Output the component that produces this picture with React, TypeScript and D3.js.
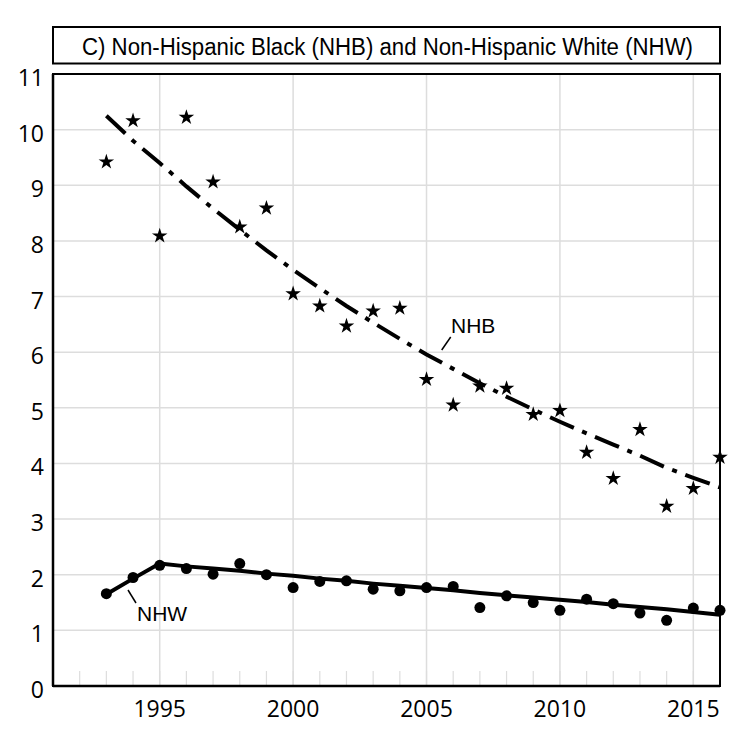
import * as d3 from "d3";

const YEARS = [
  1993, 1994, 1995, 1996, 1997, 1998, 1999, 2000, 2001, 2002, 2003, 2004,
  2005, 2006, 2007, 2008, 2009, 2010, 2011, 2012, 2013, 2014, 2015, 2016,
];

// Non-Hispanic Black: observed rates (stars) and fitted trend (dash-dot)
const NHB_OBSERVED = [
  9.42, 10.16, 8.09, 10.22, 9.06, 8.25, 8.59, 7.05, 6.83, 6.47, 6.74, 6.79,
  5.51, 5.05, 5.39, 5.35, 4.88, 4.95, 4.2, 3.73, 4.61, 3.23, 3.55, 4.11,
];
const NHB_TREND = [
  10.25, 9.8, 9.4, 8.98, 8.58, 8.2, 7.83, 7.48, 7.15, 6.83, 6.53, 6.24, 5.96,
  5.7, 5.44, 5.2, 4.97, 4.75, 4.54, 4.34, 4.14, 3.92, 3.74, 3.57,
];

// Non-Hispanic White: observed rates (dots) and fitted trend (solid)
const NHW_OBSERVED = [
  1.66, 1.95, 2.17, 2.11, 2.01, 2.2, 2.0, 1.77, 1.88, 1.89, 1.74, 1.71, 1.77,
  1.79, 1.41, 1.62, 1.5, 1.36, 1.56, 1.48, 1.31, 1.18, 1.4, 1.36,
];
const NHW_TREND = [
  1.65, 1.93, 2.2, 2.15, 2.11, 2.07, 2.02, 1.98, 1.93, 1.89, 1.84, 1.8, 1.76,
  1.72, 1.67, 1.63, 1.59, 1.55, 1.51, 1.46, 1.42, 1.38, 1.33, 1.28,
];

const Y_TICKS = [0, 1, 2, 3, 4, 5, 6, 7, 8, 9, 10, 11];
const X_TICKS = [1995, 2000, 2005, 2010, 2015];
const TITLE = "C) Non-Hispanic Black (NHB) and Non-Hispanic White (NHW)";

const WIDTH = 750;
const HEIGHT = 740;
const PLOT = { left: 53, right: 720, top: 74, bottom: 686 };
const FONT = "'Liberation Sans', Arial, sans-serif";
const TICK_FONT = "'Open Sans', 'Liberation Sans', sans-serif";

export default function App() {
  const x = d3.scaleLinear().domain([1991, 2016]).range([PLOT.left, PLOT.right]);
  const y = d3.scaleLinear().domain([0, 11]).range([PLOT.bottom, PLOT.top]);

  const line = d3
    .line<number>()
    .x((_, i) => x(YEARS[i]))
    .y((d) => y(d));

  const star = d3.symbol().type(d3.symbolStar).size(75)();

  return (
    <svg
      width={WIDTH}
      height={HEIGHT}
      style={{ position: "absolute", left: 0, top: 0, background: "#fff" }}
      fontFamily={FONT}
    >
      {/* title box */}
      <rect x={53} y={27} width={667} height={36.5} fill="#fff" stroke="#000" strokeWidth={2} />
      <text x={82} y={55} fontSize={23} textLength={611} lengthAdjust="spacingAndGlyphs">
        {TITLE}
      </text>

      {/* grid */}
      {Y_TICKS.filter((t) => t > 0 && t < 11).map((t) => (
        <line key={"gy" + t} x1={PLOT.left} x2={PLOT.right} y1={y(t)} y2={y(t)} stroke="#ddd" strokeWidth={1.5} />
      ))}
      {X_TICKS.map((t) => (
        <line key={"gx" + t} x1={x(t)} x2={x(t)} y1={PLOT.top} y2={PLOT.bottom} stroke="#ddd" strokeWidth={1.5} />
      ))}
      {d3.range(1992, 2016).map((t) => (
        <line key={"mx" + t} x1={x(t)} x2={x(t)} y1={PLOT.bottom - 15} y2={PLOT.bottom} stroke="#ddd" strokeWidth={1.2} />
      ))}

      {/* frame */}
      <rect
        x={PLOT.left}
        y={PLOT.top}
        width={PLOT.right - PLOT.left}
        height={PLOT.bottom - PLOT.top}
        fill="none"
        stroke="#000"
        strokeWidth={2}
      />
      <line x1={PLOT.left} x2={PLOT.left} y1={PLOT.top} y2={PLOT.bottom} stroke="#000" strokeWidth={2.5} />
      <line x1={PLOT.left} x2={PLOT.right} y1={PLOT.bottom} y2={PLOT.bottom} stroke="#000" strokeWidth={2.5} />

      {/* tick labels */}
      {Y_TICKS.map((t) => (
        <text
          key={"ty" + t}
          x={44}
          y={y(t) + 12}
          textAnchor="end"
          fontSize={23}
          fontFamily={TICK_FONT}
        >
          {t}
        </text>
      ))}
      {X_TICKS.map((t) => (
        <text key={"tx" + t} x={x(t)} y={717} textAnchor="middle" fontSize={23} fontFamily={TICK_FONT}>
          {t}
        </text>
      ))}

      {/* trends */}
      <path d={line(NHB_TREND) ?? ""} fill="none" stroke="#000" strokeWidth={4} strokeDasharray="26 9 5 9" />
      <path d={line(NHW_TREND) ?? ""} fill="none" stroke="#000" strokeWidth={4} strokeLinejoin="round" />

      {/* observations */}
      {NHB_OBSERVED.map((v, i) => (
        <path key={"s" + i} d={star ?? ""} transform={`translate(${x(YEARS[i])},${y(v)})`} fill="#000" />
      ))}
      {NHW_OBSERVED.map((v, i) => (
        <circle key={"c" + i} cx={x(YEARS[i])} cy={y(v)} r={5.5} fill="#000" />
      ))}

      {/* series labels */}
      <line x1={441.7} y1={350} x2={450.7} y2={337} stroke="#000" strokeWidth={1.5} />
      <text x={451} y={333} fontSize={21}>
        NHB
      </text>
      <line x1={128} y1={590} x2={136} y2={603} stroke="#000" strokeWidth={1.5} />
      <text x={137} y={621} fontSize={21}>
        NHW
      </text>
    </svg>
  );
}
